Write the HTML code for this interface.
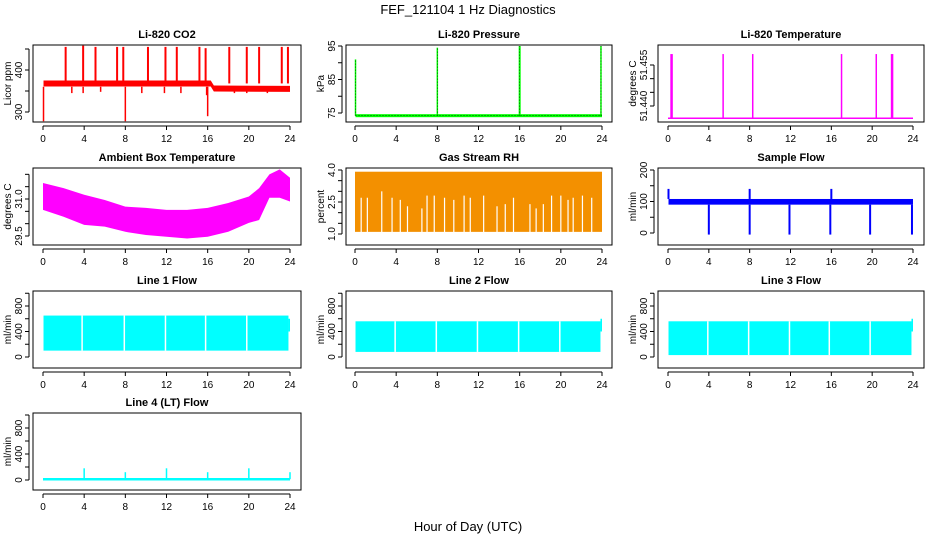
<!DOCTYPE html>
<html><head><meta charset="utf-8"><style>
html,body{margin:0;padding:0;background:#fff;}
svg{display:block;font-family:"Liberation Sans",sans-serif;}
</style></head><body>
<svg id="c" width="936" height="540" viewBox="0 0 936 540">
<text x="468" y="14" text-anchor="middle" font-size="13">FEF_121104  1 Hz Diagnostics</text>
<text x="468" y="531" text-anchor="middle" font-size="13">Hour of Day (UTC)</text>
</svg>
<script>
// ---- data arrays ----
const xTicks=[0,4,8,12,16,20,24];
// CO2
const co2BaseTimes=[0.05,16.3,16.6,24];
const co2Base=[368,368,356,355];
const co2UpTimes=[2.2,3.9,5.1,7.2,7.8,10.2,11.9,13.0,15.2,15.8,18.1,19.8,21.0,23.2,23.8];
const co2UpVals=[455,458,455,455,455,455,455,455,455,452,455,455,455,455,455];
const co2DownTimes=[0.05,2.8,3.9,5.6,8.0,9.6,11.8,13.4,15.9,16.0,18.6,19.8,21.8,23.9];
const co2DownVals=[278,345,345,348,278,345,345,345,340,290,345,345,345,350];
// Pressure
const presBase=74.2;
const presSpikeTimes=[0.05,8.0,16.0,23.9];
const presSpikeVals=[91,94.5,95,95];
// Li-820 temperature
const tempBase=51.4355;
const tempSpikeTimes=[0.3,0.4,5.4,8.3,17.0,20.4,21.9,22.0];
const tempSpikeVals=[51.459,51.459,51.459,51.459,51.459,51.459,51.459,51.459];
// Ambient box temperature envelopes
const ambTimes=[0,2,4,6,8,10,12,14,16,18,20,21,22,23,24];
const ambUpper=[31.65,31.44,31.17,30.96,30.69,30.64,30.56,30.56,30.64,30.84,31.1,31.44,32.0,32.2,31.86];
const ambLower=[30.56,30.28,29.95,29.88,29.67,29.54,29.47,29.4,29.47,29.67,30.03,30.15,31.05,31.05,30.9];
// Gas stream RH
const rhTop=3.92, rhBottom=1.1;
const rhGapTimes=[0.6,1.2,2.6,3.6,4.4,5.1,6.5,7.0,7.7,8.7,9.6,10.6,11.2,12.5,13.8,14.6,15.4,17.0,17.6,18.3,19.1,20.0,20.7,21.2,22.1,23.0];
const rhGapVals=[2.7,2.7,3.0,2.7,2.6,2.3,2.2,2.8,2.8,2.7,2.6,2.8,2.7,2.8,2.3,2.4,2.7,2.4,2.2,2.4,2.8,2.8,2.6,2.7,2.8,2.7];
// Sample flow
const sfLow=90, sfHigh=108;
const sfDownTimes=[4.0,8.0,11.9,15.9,19.8,23.9];
const sfDownVals=[-5,-5,-5,-5,-5,-5];
const sfUpTimes=[0.05,8.0,16.0];
const sfUpVals=[140,140,140];
// Line flows
const l1Low=100,l1High=650,l1Gaps=[3.8,7.9,11.9,15.8,19.8];
const l2Low=80,l2High=560,l2Gaps=[3.9,7.9,11.9,15.9,19.9];
const l3Low=30,l3High=560,l3Gaps=[3.9,7.9,11.9,15.8,19.8];
const l4Base=12;
const l4SpikeTimes=[4.0,8.0,12.0,16.0,20.0,24.0];
const l4SpikeVals=[180,120,180,120,180,120];

// ---- layout ----
const NS="http://www.w3.org/2000/svg";
const svg=document.getElementById('c');
const cols=[{l:33,r:301,x0:43,x24:290},{l:346,r:612,x0:355,x24:602},{l:658,r:924,x0:668,x24:913}];
const rows=[{t:45,b:122},{t:168,b:245},{t:291,b:368},{t:413,b:490}];
function el(tag,attrs,parent){const e=document.createElementNS(NS,tag);for(const k in attrs)e.setAttribute(k,attrs[k]);(parent||svg).appendChild(e);return e;}

function panel(name,title,ylab,ci,ri,v1,p1,v2,p2,yt,yl,ya){
  const c=cols[ci],r=rows[ri];
  const g=el('g',{});
  
  
  const X=t=>c.x0+(c.x24-c.x0)*t/24;
  const Y=v=>p1+(p2-p1)*(v-v1)/(v2-v1);
  const t=el('text',{x:(c.l+c.r)/2,y:r.t-7,'text-anchor':'middle','font-size':11,'font-weight':'bold'},g);
  t.textContent=title;
  
  
  const plot=el('g',{},g);
  
  
  const box=el('rect',{x:c.l,y:r.t,width:c.r-c.l,height:r.b-r.t,fill:'none',stroke:'#000','stroke-width':1},g);
  
  
  // x axis
  const xa=el('g',{},g);
  
  
  el('line',{x1:X(0),x2:X(24),y1:r.b+4,y2:r.b+4,stroke:'#000'},xa);
  xTicks.forEach(v=>{el('line',{x1:X(v),x2:X(v),y1:r.b+4,y2:r.b+8,stroke:'#000'},xa);
    const tx=el('text',{x:X(v),y:r.b+20,'text-anchor':'middle','font-size':10},xa);tx.textContent=v;});
  // y axis
  const yg=el('g',{},g);
  
  
  const ax=c.l-4;
  el('line',{x1:ax,x2:ax,y1:Y(yt[0]),y2:Y(yt[yt.length-1]),stroke:'#000'},yg);
  yt.forEach(v=>el('line',{x1:ax-4,x2:ax,y1:Y(v),y2:Y(v),stroke:'#000'},yg));
  yl.forEach(v=>{const yy=Y(v);const tx=el('text',{x:ax-7,y:yy,'text-anchor':'middle','font-size':10,transform:`rotate(-90 ${ax-7} ${yy})`},yg);tx.textContent=(ya?v.toFixed(ya):v);});
  const yy=(r.t+r.b)/2;
  const lt=el('text',{x:c.l-22,y:yy,'text-anchor':'middle','font-size':10,transform:`rotate(-90 ${c.l-22} ${yy})`},g);
  lt.textContent=ylab;
  
  
  return {X,Y,g:plot};
}
function vline(p,x,y1,y2,col,w){el('line',{x1:x,x2:x,y1:y1,y2:y2,stroke:col,'stroke-width':w||1.5},p.g);}

// CO2
let p=panel('co2','Li-820 CO2','Licor ppm',0,0,400,70,300,112,[300,350,400,450],[300,400]);
{let pts=co2BaseTimes.map((t,i)=>p.X(t)+','+(p.Y(co2Base[i])-3)).concat(co2BaseTimes.slice().reverse().map((t,i)=>p.X(t)+','+(p.Y(co2Base[co2Base.length-1-i])+3)));
el('polygon',{points:pts.join(' '),fill:'#f00'},p.g);
co2UpTimes.forEach((t,i)=>vline(p,p.X(t),p.Y(co2Base[0]),p.Y(co2UpVals[i]),'#f00',2));
co2DownTimes.forEach((t,i)=>vline(p,p.X(t),p.Y(360),p.Y(co2DownVals[i]),'#f00',1.5));}
// Pressure
p=panel('pressure','Li-820 Pressure','kPa',1,0,95,46,75,113,[75,80,85,90,95],[75,85,95]);
el('rect',{x:p.X(0.05),y:p.Y(presBase)-1.5,width:p.X(24)-p.X(0.05),height:3,fill:'#0f0'},p.g);
el('line',{x1:p.X(0.05),x2:p.X(24),y1:p.Y(presBase),y2:p.Y(presBase),stroke:'#000','stroke-width':0.6,'stroke-dasharray':'1,2'},p.g);
presSpikeTimes.forEach((t,i)=>{vline(p,p.X(t),p.Y(presBase),p.Y(presSpikeVals[i]),'#0f0',i==2?2:1.5);
  el('line',{x1:p.X(t),x2:p.X(t),y1:p.Y(presBase),y2:p.Y(presSpikeVals[i]),stroke:'#000','stroke-width':0.6,'stroke-dasharray':'1,2'},p.g);});
// Temperature
p=panel('li820-temp','Li-820 Temperature','degrees C',2,0,51.440,106,51.455,65,[51.440,51.445,51.450,51.455],[51.440,51.455],3);
el('line',{x1:p.X(0),x2:p.X(24),y1:p.Y(tempBase),y2:p.Y(tempBase),stroke:'#f0f','stroke-width':1.5},p.g);
tempSpikeTimes.forEach((t,i)=>vline(p,p.X(t),p.Y(tempBase),p.Y(tempSpikeVals[i]),'#f0f',1.5));
// Ambient
p=panel('ambient-temp','Ambient Box Temperature','degrees C',0,1,29.5,236,31.0,199,[29.5,30.0,30.5,31.0,31.5,32.0],[29.5,31.0],1);
{let pts=ambTimes.map((t,i)=>p.X(t)+','+p.Y(ambUpper[i])).concat(ambTimes.slice().reverse().map((t,i)=>p.X(t)+','+p.Y(ambLower[ambLower.length-1-i])));
el('polygon',{points:pts.join(' '),fill:'#f0f'},p.g);}
// RH
p=panel('gas-rh','Gas Stream RH','percent',1,1,1.0,234,4.0,170,[1.0,1.5,2.0,2.5,3.0,3.5,4.0],[1.0,2.5,4.0],1);
el('rect',{x:p.X(0),y:p.Y(rhTop),width:p.X(24)-p.X(0),height:p.Y(rhBottom)-p.Y(rhTop),fill:'#f39000'},p.g);
rhGapTimes.forEach((t,i)=>vline(p,p.X(t),p.Y(rhBottom)+1,p.Y(rhGapVals[i]),'#fff',1.2));
// Sample flow
p=panel('sample-flow','Sample Flow','ml/min',2,1,0,233,200,170,[0,50,100,150,200],[0,100,200]);
el('rect',{x:p.X(0.05),y:p.Y(sfHigh),width:p.X(24)-p.X(0.05),height:p.Y(sfLow)-p.Y(sfHigh),fill:'#00f'},p.g);
sfDownTimes.forEach((t,i)=>vline(p,p.X(t),p.Y(sfLow),p.Y(sfDownVals[i]),'#00f',2));
sfUpTimes.forEach((t,i)=>vline(p,p.X(t),p.Y(sfHigh),p.Y(sfUpVals[i]),'#00f',2));
// Line flows
function flow(name,title,ci,ri,lo,hi,gaps){
  const z=rows[ri].b-11;
  const q=panel(name,title,'ml/min',ci,ri,0,z,800,z-51,[0,200,400,600,800,1000],[0,400,800]);
  el('rect',{x:q.X(0.05),y:q.Y(hi),width:q.X(23.85)-q.X(0.05),height:q.Y(lo)-q.Y(hi),fill:'#0ff'},q.g);
  gaps.forEach(t=>vline(q,q.X(t),q.Y(hi),q.Y(lo),'#fff',1.5));
  el('rect',{x:q.X(23.85),y:q.Y(600),width:q.X(24)-q.X(23.85),height:q.Y(400)-q.Y(600),fill:'#0ff'},q.g);
  return q;
}
flow('line1-flow','Line 1 Flow',0,2,l1Low,l1High,l1Gaps);
flow('line2-flow','Line 2 Flow',1,2,l2Low,l2High,l2Gaps);
flow('line3-flow','Line 3 Flow',2,2,l3Low,l3High,l3Gaps);
{const z=rows[3].b-10;
p=panel('line4-flow','Line 4 (LT) Flow','ml/min',0,3,0,z,800,z-52,[0,200,400,600,800,1000],[0,400,800]);
el('line',{x1:p.X(0),x2:p.X(24),y1:p.Y(l4Base),y2:p.Y(l4Base),stroke:'#0ff','stroke-width':2.5},p.g);
l4SpikeTimes.forEach((t,i)=>vline(p,p.X(t),p.Y(l4Base),p.Y(l4SpikeVals[i]),'#0ff',1.5));}
</script>
</body></html>
